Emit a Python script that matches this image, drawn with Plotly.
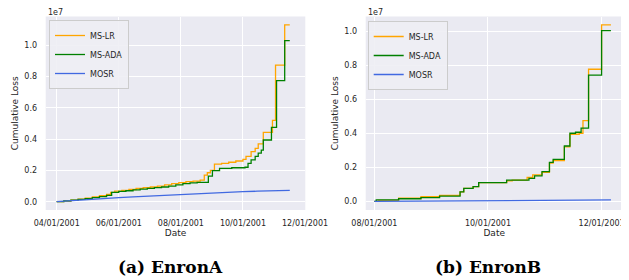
import plotly.graph_objects as go

# ---------------- data (values in units of 1e7) ----------------
a_lr_dates = ["2001-04-01", "2001-04-08", "2001-04-15", "2001-04-22", "2001-04-29", "2001-05-06",
              "2001-05-13", "2001-05-20", "2001-05-24", "2001-05-28", "2001-06-04", "2001-06-11",
              "2001-06-18", "2001-06-25", "2001-07-02", "2001-07-09", "2001-07-16", "2001-07-23",
              "2001-07-30", "2001-08-06", "2001-08-13", "2001-08-20", "2001-08-24", "2001-08-27",
              "2001-08-30", "2001-09-03", "2001-09-10", "2001-09-17", "2001-09-24", "2001-10-01",
              "2001-10-04", "2001-10-09", "2001-10-13", "2001-10-16", "2001-10-21", "2001-10-30",
              "2001-11-02", "2001-11-11", "2001-11-16"]
a_lr_vals = [0.0, 0.004, 0.010, 0.016, 0.022, 0.030, 0.038, 0.046, 0.060, 0.068, 0.072, 0.078,
             0.085, 0.090, 0.094, 0.100, 0.108, 0.115, 0.122, 0.128, 0.132, 0.138, 0.170, 0.185,
             0.200, 0.240, 0.245, 0.252, 0.260, 0.270, 0.290, 0.320, 0.340, 0.370, 0.443, 0.520,
             0.873, 1.129, 1.129]

a_ada_dates = ["2001-04-01", "2001-04-08", "2001-04-15", "2001-04-22", "2001-04-29", "2001-05-06",
               "2001-05-13", "2001-05-20", "2001-05-25", "2001-06-01", "2001-06-08", "2001-06-15",
               "2001-06-22", "2001-06-29", "2001-07-06", "2001-07-13", "2001-07-20", "2001-07-27",
               "2001-08-03", "2001-08-10", "2001-08-17", "2001-08-28", "2001-09-01", "2001-09-08",
               "2001-09-20", "2001-10-03", "2001-10-06", "2001-10-09", "2001-10-13", "2001-10-16",
               "2001-10-19", "2001-10-21", "2001-10-29", "2001-11-03", "2001-11-11", "2001-11-16"]
a_ada_vals = [0.0, 0.005, 0.010, 0.015, 0.020, 0.026, 0.032, 0.040, 0.060, 0.066, 0.070, 0.075,
              0.080, 0.085, 0.090, 0.094, 0.100, 0.108, 0.115, 0.120, 0.123, 0.164, 0.198, 0.213,
              0.217, 0.220, 0.245, 0.267, 0.290, 0.310, 0.330, 0.394, 0.475, 0.773, 1.029, 1.029]

a_mosr_dates = ["2001-04-01", "2001-04-15", "2001-05-01", "2001-05-15", "2001-06-01", "2001-06-15",
                "2001-07-01", "2001-07-15", "2001-08-01", "2001-08-15", "2001-09-01", "2001-09-15",
                "2001-10-01", "2001-10-15", "2001-11-01", "2001-11-16"]
a_mosr_vals = [0.0, 0.007, 0.014, 0.020, 0.026, 0.031, 0.036, 0.041, 0.047, 0.053, 0.057, 0.061,
               0.064, 0.067, 0.070, 0.072]

b_lr_dates = ["2001-08-01", "2001-08-03", "2001-08-14", "2001-08-26", "2001-09-05", "2001-09-16",
              "2001-09-18", "2001-09-23", "2001-09-26", "2001-10-11", "2001-10-14", "2001-10-22",
              "2001-10-25", "2001-10-30", "2001-11-03", "2001-11-05", "2001-11-11", "2001-11-14",
              "2001-11-19", "2001-11-21", "2001-11-24", "2001-12-01", "2001-12-06"]
b_lr_vals = [0.0, 0.006, 0.018, 0.027, 0.035, 0.056, 0.076, 0.086, 0.110, 0.120, 0.125, 0.140,
             0.155, 0.170, 0.225, 0.240, 0.320, 0.394, 0.400, 0.474, 0.776, 1.037, 1.037]

b_ada_dates = ["2001-08-01", "2001-08-02", "2001-08-14", "2001-08-26", "2001-09-05", "2001-09-16",
               "2001-09-18", "2001-09-23", "2001-09-26", "2001-10-11", "2001-10-23", "2001-10-26",
               "2001-10-30", "2001-11-03", "2001-11-05", "2001-11-11", "2001-11-14", "2001-11-17",
               "2001-11-20", "2001-11-24", "2001-12-01", "2001-12-06"]
b_ada_vals = [0.0, 0.008, 0.015, 0.022, 0.030, 0.056, 0.076, 0.086, 0.110, 0.125, 0.135, 0.149,
              0.174, 0.229, 0.247, 0.325, 0.400, 0.406, 0.430, 0.741, 1.003, 1.003]

b_mosr_dates = ["2001-08-01", "2001-09-01", "2001-10-01", "2001-11-01", "2001-12-06"]
b_mosr_vals = [0.0, 0.002, 0.004, 0.006, 0.008]

a_ticks = ["2001-04-01", "2001-06-01", "2001-08-01", "2001-10-01", "2001-12-01"]
b_ticks = ["2001-08-01", "2001-10-01", "2001-12-01"]
y_ticks = [0.0, 0.2, 0.4, 0.6, 0.8, 1.0]

series_names = ["MS-LR", "MS-ADA", "MOSR"]
colors = ["#FFA500", "#008000", "#4169E1"]
panel_titles = ["(a) EnronA", "(b) EnronB"]

# ---------------- figure ----------------
fig = go.Figure()
FONT = "DejaVu Sans"
TXT = "#262626"

panels = [
    ([a_lr_dates, a_ada_dates, a_mosr_dates], [a_lr_vals, a_ada_vals, a_mosr_vals], "x", "y", "legend"),
    ([b_lr_dates, b_ada_dates, b_mosr_dates], [b_lr_vals, b_ada_vals, b_mosr_vals], "x2", "y2", "legend2"),
]
for dates, vals, xa, ya, lg in panels:
    for i in range(3):
        fig.add_trace(go.Scatter(
            x=dates[i], y=vals[i], mode="lines", name=series_names[i],
            line=dict(color=colors[i], width=1.3, shape="hv" if i < 2 else "linear"),
            xaxis=xa, yaxis=ya, legend=lg))

# page body has an 8px margin: figure is laid out in screen px minus that offset
OFF = 8
W, H = 629 - OFF, 280 - OFF


def px(xs):
    return (xs - OFF) / W


def py(ys):
    return 1 - (ys - OFF) / H


ydom = [py(210), py(16.5)]

xcommon = dict(showgrid=True, gridcolor="white", gridwidth=1, zeroline=False, showline=False,
               automargin=False,
               tickformat="%m/%d/%Y", ticks="outside", ticklen=5, tickcolor="rgba(0,0,0,0)",
               tickfont=dict(family=FONT, size=8, color=TXT),
               title=dict(text="Date", font=dict(family=FONT, size=9, color=TXT), standoff=2))
ycommon = dict(showgrid=True, gridcolor="white", gridwidth=1, zeroline=False, showline=False,
               automargin=False,
               tickvals=y_ticks, tickformat=".1f", ticks="outside", ticklen=6,
               tickcolor="rgba(0,0,0,0)",
               tickfont=dict(family=FONT, size=8, color=TXT),
               title=dict(text="Cumulative Loss", font=dict(family=FONT, size=9, color=TXT), standoff=4))

legcommon = dict(bgcolor="rgba(238,238,244,0.9)", bordercolor="#CCCCCC", borderwidth=1,
                 font=dict(family=FONT, size=8, color=TXT), xanchor="left", yanchor="top",
                 tracegroupgap=0, itemwidth=30)

fig.update_layout(
    width=W, height=H, margin=dict(l=0, r=0, t=0, b=0, autoexpand=False),
    paper_bgcolor="white", plot_bgcolor="#EAEAF2",
    showlegend=True,
    xaxis=dict(domain=[px(45.7), px(305.3)], anchor="y", type="date",
               range=["2001-03-21 05:00", "2001-12-01 06:00"], tickvals=a_ticks, **xcommon),
    yaxis=dict(domain=ydom, anchor="x", range=[-0.053, 1.183], **ycommon),
    xaxis2=dict(domain=[px(365.7), px(622.7)], anchor="y2", type="date",
                range=["2001-07-27 08:00", "2001-12-12 08:00"], tickvals=b_ticks, **xcommon),
    yaxis2=dict(domain=ydom, anchor="x2", range=[-0.051, 1.086], **ycommon),
    legend=dict(x=px(49), y=py(20), **legcommon),
    legend2=dict(x=px(367.7), y=py(21), **legcommon),
)

# offset text "1e7" and panel captions
for xs in [46, 365.5]:
    fig.add_annotation(text="1e7", x=px(xs), y=py(12.7), xref="paper", yref="paper",
                       xanchor="left", yanchor="middle", showarrow=False,
                       font=dict(family=FONT, size=8, color=TXT))
for t, cx in zip(panel_titles, [170, 488.3]):
    fig.add_annotation(text="<b>%s</b>" % t, x=px(cx), y=py(266.7), xref="paper", yref="paper",
                       xanchor="center", yanchor="middle", showarrow=False,
                       font=dict(family="DejaVu Serif", size=17, color="black"))

fig.write_html("out.html")
